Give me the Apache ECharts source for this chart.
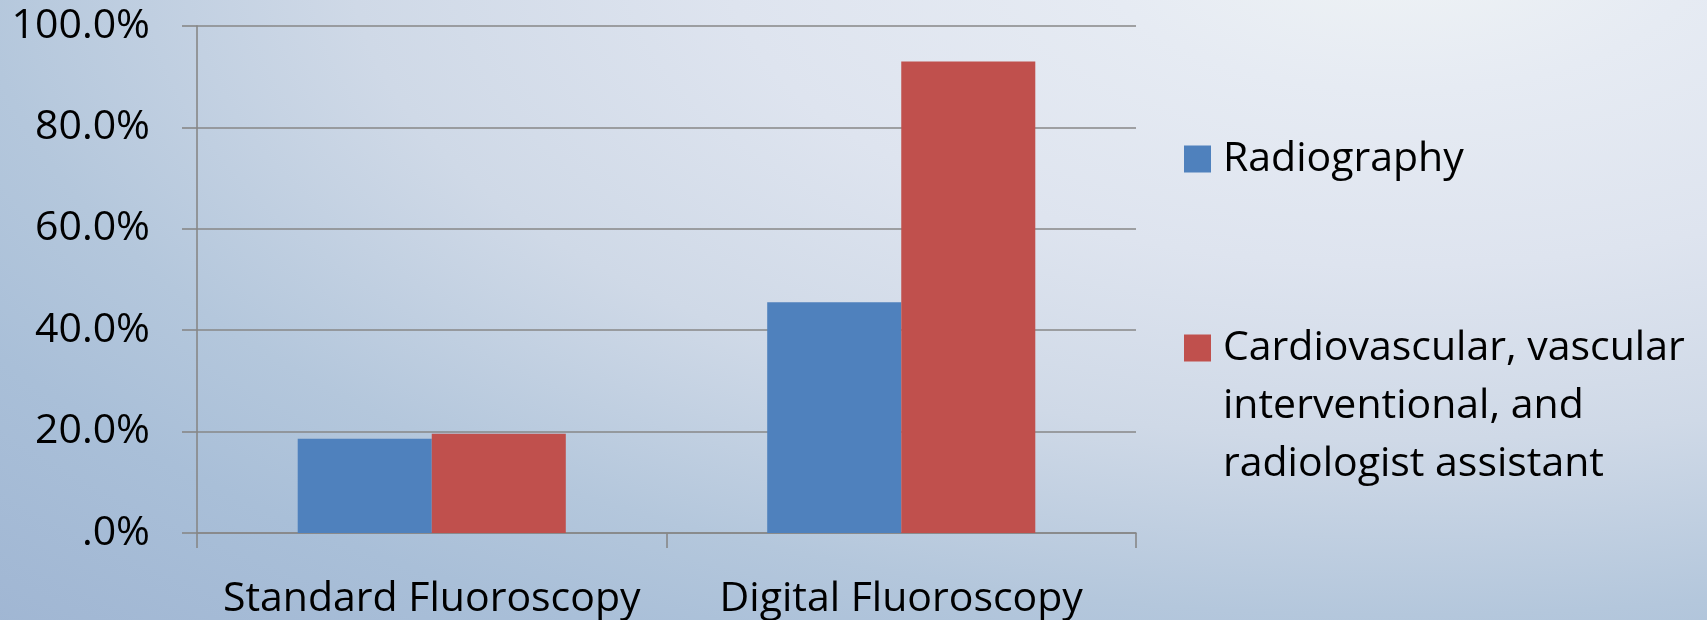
<!DOCTYPE html>
<html>
<head>
<meta charset="utf-8">
<title>Fluoroscopy by discipline</title>
<script src="https://cdn.jsdelivr.net/npm/echarts@6/dist/echarts.min.js"></script>
<style>
  html, body { margin: 0; padding: 0; }
  #chart {
    width: 1707px;
    height: 620px;
    background:
      radial-gradient(1500px 700px at 1400px -50px,
        #eff3f5 0%, #e6ebf3 20%, #dee4ef 45%, #cfd9e7 70%, #b4c7dc 95%, #a9bfd8 110%, #a0b6d3 135%);
  }
</style>
</head>
<body>
<div id="chart"></div>
<script>
// Categories along the x axis
const categories = ['Standard Fluoroscopy', 'Digital Fluoroscopy'];

// Series names (legend entries)
const seriesNames = [
  'Radiography',
  'Cardiovascular, vascular\ninterventional, and\nradiologist assistant'
];

// Percent values per series, one per category
const radiography = [18.6, 45.5];
const cardiovascular = [19.6, 93.0];

// Y axis tick labels, from 0 to 100 in steps of 20
const yTickLabels = ['.0%', '20.0%', '40.0%', '60.0%', '80.0%', '100.0%'];

const FONT = '"Open Sans", "Noto Sans", sans-serif';
const GRID_COLOR = '#878787';
const LABEL_SIZE = 41;
const LINE_H = 58;

const chart = echarts.init(document.getElementById('chart'), null, { renderer: 'canvas' });

const legendBase = {
  orient: 'vertical',
  left: 1184,
  padding: 0,
  itemWidth: 27,
  itemHeight: 27,
  icon: 'rect',
  selectedMode: false,
  textStyle: {
    fontFamily: FONT,
    fontSize: LABEL_SIZE,
    color: '#000',
    lineHeight: LINE_H,
    padding: [0, 0, 0, 7]
  }
};

chart.setOption({
  backgroundColor: 'transparent',
  animation: false,
  textStyle: { fontFamily: FONT },
  grid: {
    left: 197,
    right: 571,
    top: 26,
    bottom: 87,
    containLabel: false,
    outerBoundsMode: 'none'
  },
  legend: [
    Object.assign({}, legendBase, {
      data: [seriesNames[0]],
      top: 130
    }),
    Object.assign({}, legendBase, {
      data: [seriesNames[1]],
      top: 203,
      // two blank lines above keep the first text line level with the colour key
      formatter: (name) => '\n\n' + name
    })
  ],
  xAxis: {
    type: 'category',
    data: categories,
    boundaryGap: true,
    axisLine: { show: true, lineStyle: { color: GRID_COLOR, width: 1.6 } },
    axisTick: { show: true, length: 15, alignWithLabel: false, lineStyle: { color: GRID_COLOR, width: 1.6 } },
    axisLabel: {
      fontFamily: FONT,
      fontSize: LABEL_SIZE,
      color: '#000',
      margin: 46,
      interval: 0
    },
    splitLine: { show: false }
  },
  yAxis: {
    type: 'value',
    min: 0,
    max: 100,
    interval: 20,
    axisLine: { show: true, lineStyle: { color: GRID_COLOR, width: 1.6 } },
    axisTick: { show: true, length: 15, lineStyle: { color: GRID_COLOR, width: 1.6 } },
    axisLabel: {
      fontFamily: FONT,
      fontSize: LABEL_SIZE,
      color: '#000',
      margin: 47,
      formatter: (v) => yTickLabels[Math.round(v / 20)]
    },
    splitLine: { show: true, lineStyle: { color: GRID_COLOR, width: 1.6 } }
  },
  series: [
    {
      name: seriesNames[0],
      type: 'bar',
      data: radiography,
      barGap: '0%',
      barCategoryGap: '42.9%',
      itemStyle: { color: '#4F81BD' }
    },
    {
      name: seriesNames[1],
      type: 'bar',
      data: cardiovascular,
      barGap: '0%',
      barCategoryGap: '42.9%',
      itemStyle: { color: '#C0504D' }
    }
  ]
});
</script>
</body>
</html>
